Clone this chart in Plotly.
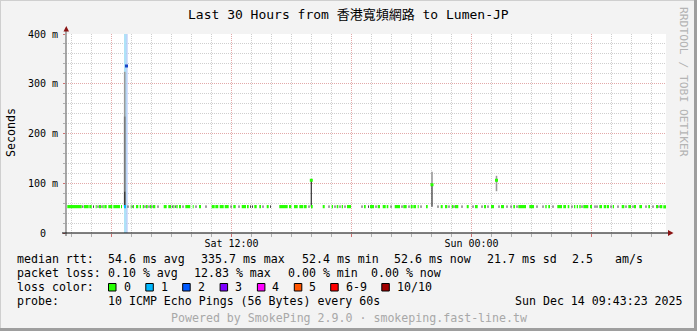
import pandas as pd
import plotly.graph_objects as go

# ---------------- data ----------------
title_text = "Last 30 Hours from 香港寬頻網路 to Lumen-JP"
window_start = pd.Timestamp("2025-12-13 03:43:23")
window_end = pd.Timestamp("2025-12-14 09:43:23")

# median rtt segments (loss 0), hours since window start
seg_start_h = [0.065, 0.9, 1.165, 1.485, 1.65, 1.835, 1.915, 2.115, 2.365, 2.75,
               3.235, 3.35, 3.5, 3.685, 3.835, 4.0, 4.2, 4.35,
               4.885, 5.115, 5.365, 5.515, 5.65, 5.965, 6.335, 6.65,
               7.285, 7.465, 7.685, 7.935, 8.365, 8.785, 9.05,
               9.415, 9.665, 10.035, 10.665, 11.15, 11.4, 11.665, 11.9, 12.25,
               12.835, 13.285, 13.535, 13.785, 14.05, 14.9, 15.2, 15.585, 15.835,
               16.035, 16.435, 16.865, 17.235, 17.365, 17.585, 18.0,
               18.735, 18.95, 19.285, 19.45, 20.035, 20.45, 20.9, 21.25, 21.75,
               22.365, 22.615, 23.165, 23.965, 24.115, 24.565, 24.865, 25.085,
               25.4, 25.535, 25.665, 25.865, 26.2, 26.665, 26.885, 27.035, 27.335,
               27.785, 28.115, 28.4, 28.665, 29.115, 29.5, 29.7, 29.865]
seg_end_h = [0.785, 1.135, 1.285, 1.535, 1.75, 1.885, 2.035, 2.315, 2.7, 2.8,
             3.265, 3.4, 3.615, 3.75, 3.9, 4.085, 4.265, 4.465,
             5.035, 5.25, 5.415, 5.585, 5.75, 6.215, 6.385, 6.75,
             7.435, 7.615, 7.885, 8.135, 8.485, 9.0, 9.135,
             9.535, 9.75, 10.135, 11.085, 11.265, 11.585, 11.865, 12.035, 12.335,
             12.935, 13.35, 13.615, 13.85, 14.25, 14.985, 15.4, 15.7, 15.985,
             16.115, 16.7, 17.035, 17.335, 17.5, 17.635, 18.085,
             18.835, 19.065, 19.365, 19.615, 20.135, 20.585, 21.0, 21.4, 21.9,
             22.45, 23.0, 23.4, 24.035, 24.2, 24.8, 25.0, 25.165,
             25.465, 25.6, 25.735, 26.115, 26.3, 26.8, 27.0, 27.15, 27.4,
             27.915, 28.25, 28.5, 28.8, 29.2, 29.6, 29.815, 30.0]
seg_rtt = [53, 53, 53, 53, 53, 53, 53, 53, 53, 53,
           53, 53, 53, 53, 53, 53, 53, 53,
           53, 53, 53, 53, 53, 53, 53, 53,
           53, 53, 53, 53, 53, 53, 53,
           53, 53, 53, 53, 53, 53, 53, 53, 53,
           53, 53, 53, 53, 53, 53, 53, 53, 53,
           53, 53, 53, 53, 53, 53, 53,
           53, 53, 53, 53, 53, 53, 53, 53, 53,
           53, 53, 53, 53, 53, 53, 53, 53,
           53, 53, 53, 53, 53, 53, 53, 53, 53,
           53, 53, 53, 53, 53, 53, 53, 52.6]

# small smoke ticks between median segments (hours since start)
smoke_tick_h = [0.84, 1.375, 1.6, 1.8, 3.1, 3.31, 3.95, 4.15, 4.3, 4.6, 5.315, 5.465,
                5.85, 6.5, 7.0, 8.25, 8.65, 9.225, 9.325, 9.85, 10.225, 12.15, 13.15,
                13.45, 13.7, 13.95, 14.8, 15.125, 15.5, 16.25, 16.8, 17.15, 17.75,
                18.6, 19.15, 19.4, 19.8, 20.35, 20.8, 21.1, 21.65, 22.05, 22.25,
                22.55, 23.55, 23.85, 24.35, 25.3, 25.8, 26.45, 26.55, 27.25, 27.6,
                28.0, 28.35, 29.0, 29.35, 29.65]
smoke_tick_low = 50.5
smoke_tick_high = 55.5

# loss event (1 of 10 lost)
loss_event_start_h = 2.9
loss_event_end_h = 3.0
loss_event_rtt = 53
loss_band_h = 2.965
loss_band_edge_h = 3.05
loss_max_h = 3.025
loss_max_rtt = 335.7

# smoke spikes: time (h), low, high
spike_outer_h = [2.935, 18.3, 21.525]
spike_outer_low = [53, 98, 84]
spike_outer_high = [324, 123, 115]
spike_mid_h = [2.935]
spike_mid_low = [53]
spike_mid_high = [234]
spike_inner_h = [2.935, 12.265, 18.3]
spike_inner_low = [53, 53, 53]
spike_inner_high = [83, 107, 98]
spike_median_h = [12.265, 18.3, 21.525]
spike_median_rtt = [106, 97, 106]

# axis ticks
x_major_ticks = ["2025-12-13 06:00", "2025-12-13 12:00", "2025-12-13 18:00",
                 "2025-12-14 00:00", "2025-12-14 06:00"]
x_major_labels = ["", "Sat 12:00", "", "Sun 00:00", ""]
y_ticks = [0, 100, 200, 300, 400]
y_labels = ["0\u00a0\u00a0", "100 m", "200 m", "300 m", "400 m"]

# legend
loss_labels = ["0", "1", "2", "3", "4", "5", "6-9", "10/10"]
loss_colors = ["#26ff00", "#00b8ff", "#0059ff", "#7e00ff", "#ff00ff", "#ff5500", "#ff0000", "#a10000"]
row_rtt = [("median rtt:", 16), ("54.6 ms avg", 107.3), ("335.7 ms max", 200), ("52.4 ms min", 301),
           ("52.6 ms now", 393), ("21.7 ms sd", 486), ("2.5", 571), ("am/s", 614)]
row_loss = [("packet loss:", 16), ("0.10 % avg", 107.3), ("12.83 % max", 193.3),
            ("0.00 % min", 286.7), ("0.00 % now", 370.5)]
probe_text = "10 ICMP Echo Pings (56 Bytes) every 60s"
date_text = "Sun Dec 14 09:43:23 2025"
powered_text = "Powered by SmokePing 2.9.0 · smokeping.fast-line.tw"
side_text = "RRDTOOL / TOBI OETIKER"

# ---------------- layout geometry ----------------
W, H = 697, 331
L, R, T, B = 66, 31, 34, 98
PW, PH = W - L - R, H - T - B
MONO = "DejaVu Sans Mono, Noto Sans CJK TC, monospace"


def px(x):
    return (x - L) / PW


def py(y):
    return (H - B - y) / PH


def t(h):
    return window_start + pd.to_timedelta(h, unit="h")


def vbars(hs, lows, highs):
    xs, ys = [], []
    for h, lo, hi in zip(hs, lows, highs):
        xs += [t(h), t(h), None]
        ys += [lo, hi, None]
    return xs, ys


fig = go.Figure()

# loss band (behind)
fig.add_trace(go.Scatter(x=[t(loss_band_h), t(loss_band_h)], y=[0, 400], mode="lines",
                         line=dict(color="#aee2f7", width=2.6), hoverinfo="skip"))
fig.add_trace(go.Scatter(x=[t(loss_band_edge_h), t(loss_band_edge_h)], y=[0, 400], mode="lines",
                         line=dict(color="#a9bdf5", width=1), hoverinfo="skip"))

# smoke
xs, ys = vbars(spike_outer_h, spike_outer_low, spike_outer_high)
fig.add_trace(go.Scatter(x=xs, y=ys, mode="lines", line=dict(color="#9a9a9a", width=1.6)))
xs, ys = vbars(spike_mid_h, spike_mid_low, spike_mid_high)
fig.add_trace(go.Scatter(x=xs, y=ys, mode="lines", line=dict(color="#7a7a7a", width=1.6)))
xs, ys = vbars(spike_inner_h, spike_inner_low, spike_inner_high)
fig.add_trace(go.Scatter(x=xs, y=ys, mode="lines", line=dict(color="#333333", width=1.2)))
xs, ys = vbars(smoke_tick_h, [smoke_tick_low] * len(smoke_tick_h), [smoke_tick_high] * len(smoke_tick_h))
fig.add_trace(go.Scatter(x=xs, y=ys, mode="lines", line=dict(color="#444444", width=1)))

# median rtt, loss 0
mx, my = [], []
for a, b, v in zip(seg_start_h, seg_end_h, seg_rtt):
    mx += [t(a), t(b), None]
    my += [v, v, None]
fig.add_trace(go.Scatter(x=mx, y=my, mode="lines", line=dict(color=loss_colors[0], width=3.2)))
fig.add_trace(go.Scatter(x=[t(h) for h in spike_median_h], y=spike_median_rtt, mode="markers",
                         marker=dict(color=loss_colors[0], size=3, symbol="square", line=dict(width=0))))
# median rtt, loss 1
fig.add_trace(go.Scatter(x=[t(loss_event_start_h), t(loss_event_end_h)], y=[loss_event_rtt] * 2,
                         mode="lines", line=dict(color=loss_colors[1], width=3.2)))
fig.add_trace(go.Scatter(x=[t(loss_max_h)], y=[loss_max_rtt], mode="markers",
                         marker=dict(color="#1846c8", size=3, symbol="square", line=dict(width=0))))

grid_minor = "#cfcfcf"
grid_major = "#e3a9a9"

fig.update_xaxes(type="date", range=[window_start, window_end], showline=False, zeroline=False,
                 tickvals=x_major_ticks, ticktext=x_major_labels,
                 showgrid=True, gridcolor=grid_major, griddash="1px,1px", gridwidth=1,
                 ticks="outside", ticklen=3, tickcolor="#d07070", tickwidth=1,
                 ticklabelstandoff=-2,
                 tickfont=dict(family=MONO, size=10, color="#000"),
                 minor=dict(dtick=3600000, tick0="2025-12-13 00:00", showgrid=True,
                            gridcolor=grid_minor, griddash="1px,1px", gridwidth=1,
                            ticks="outside", ticklen=3, tickcolor="#b0b0b0"))
fig.update_yaxes(range=[0, 400], showline=False, zeroline=False,
                 tickvals=y_ticks, ticktext=y_labels,
                 showgrid=True, gridcolor=grid_major, griddash="1px,1px", gridwidth=1,
                 ticks="outside", ticklen=2, tickcolor="#d07070",
                 ticklabelstandoff=3,
                 tickfont=dict(family=MONO, size=10, color="#000"),
                 minor=dict(dtick=20, showgrid=True, gridcolor=grid_minor, griddash="1px,1px",
                            ticks="outside", ticklen=2, tickcolor="#b0b0b0"))

shapes = []
# frame shading
shapes.append(dict(type="line", xref="paper", yref="paper", x0=px(0), x1=px(W), y0=py(0.5), y1=py(0.5),
                   line=dict(color="#cfcfcf", width=1)))
shapes.append(dict(type="line", xref="paper", yref="paper", x0=px(0.5), x1=px(0.5), y0=py(0), y1=py(H),
                   line=dict(color="#cfcfcf", width=1)))
shapes.append(dict(type="line", xref="paper", yref="paper", x0=px(W - 1.5), x1=px(W - 1.5), y0=py(0), y1=py(H),
                   line=dict(color="#9e9e9e", width=3)))
shapes.append(dict(type="line", xref="paper", yref="paper", x0=px(0), x1=px(W), y0=py(H - 1.5), y1=py(H - 1.5),
                   line=dict(color="#9e9e9e", width=3)))
# axes
shapes.append(dict(type="line", xref="paper", yref="paper", x0=px(66), x1=px(66), y0=py(236), y1=py(30),
                   line=dict(color="#7a7a7a", width=1.3), layer="above"))
shapes.append(dict(type="line", xref="paper", yref="paper", x0=px(62), x1=px(669), y0=py(233), y1=py(233),
                   line=dict(color="#000000", width=1.2), layer="above"))
shapes.append(dict(type="path", xref="paper", yref="paper", layer="above",
                   path=f"M {px(63.5)} {py(31.5)} L {px(66.3)} {py(26)} L {px(69)} {py(31.5)} Z",
                   fillcolor="#8b1414", line=dict(width=0)))
shapes.append(dict(type="path", xref="paper", yref="paper", layer="above",
                   path=f"M {px(668)} {py(230)} L {px(673.5)} {py(233)} L {px(668)} {py(236)} Z",
                   fillcolor="#8b1414", line=dict(width=0)))
# loss colour swatches
sw_x = [108, 145.3, 182.2, 219.6, 256.9, 293.8, 330.2, 381.3]
for xx, col in zip(sw_x, loss_colors):
    shapes.append(dict(type="rect", xref="paper", yref="paper", x0=px(xx + 0.5), x1=px(xx + 8), y0=py(283.5),
                       y1=py(291), fillcolor=col, line=dict(color="#000", width=1)))

ann = []


def text(s, x, y, size=11.6, color="#000", xanchor="left", angle=0):
    ann.append(dict(text=s, xref="paper", yref="paper", x=px(x), y=py(y), showarrow=False,
                    xanchor=xanchor, yanchor="middle", borderpad=0, textangle=angle,
                    font=dict(family=MONO, size=size, color=color)))


text(title_text, 348.5, 15, size=13, xanchor="center")
text("Seconds", 10.5, 132.5, angle=-90, xanchor="center")
text(side_text, 684, 82, size=11.3, color="#b4b4b4", angle=90, xanchor="center")
for s, x in row_rtt:
    text(s, x, 259.3)
for s, x in row_loss:
    text(s, x, 273.3)
text("loss color:", 16, 287.3)
lab_x = [123, 160, 197, 234, 271, 308, 345, 396]
for s, x in zip(loss_labels, lab_x):
    text(s, x, 287.3)
text("probe:", 16, 301.3)
text(probe_text, 107.3, 301.3)
text(date_text, 514, 301.3)
text(powered_text, 348.5, 317.7, color="#a8a8a8", xanchor="center")

fig.update_layout(width=W, height=H, margin=dict(l=L, r=R, t=T, b=B),
                  paper_bgcolor="#f3f3f3", plot_bgcolor="#ffffff", showlegend=False,
                  shapes=shapes, annotations=ann, hovermode=False)

fig.write_html("out.html")
